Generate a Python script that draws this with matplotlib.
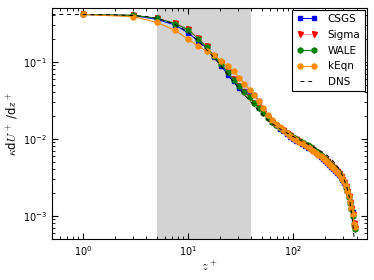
import matplotlib
matplotlib.use("Agg")
import matplotlib.pyplot as plt

# wall-normal positions of the LES cell centres (z+)
z_les = [1, 3, 5, 7.5, 10, 12.5, 15, 17.7, 20.6, 23.7, 27, 30.5, 34.3, 38.3, 42.5,
         47, 52, 57, 62.5, 68, 74, 80, 86.5, 93, 100,
         107, 114.5, 122, 130, 138, 146.5, 155, 164, 173, 182,
         191.5, 201, 211, 221, 231, 241, 251, 261, 271.5, 282,
         293, 304, 315, 326, 337, 348, 358, 367, 375.5, 383]

csgs = [0.41, 0.397, 0.355, 0.300, 0.236, 0.184, 0.150, 0.115, 0.089, 0.068, 0.0555, 0.0458, 0.0412, 0.0392, 0.0375,
        0.031, 0.0245, 0.0195, 0.0166, 0.0149, 0.0136, 0.0125, 0.0116, 0.0107, 0.0100,
        0.0094, 0.0090, 0.0085, 0.0081, 0.0077, 0.0073, 0.0069, 0.0065, 0.0061, 0.0058,
        0.0055, 0.0052, 0.0049, 0.0046, 0.00437, 0.0041, 0.00386, 0.00365, 0.00343, 0.00322,
        0.00296, 0.0027, 0.00238, 0.00208, 0.00178, 0.0015, 0.00128, 0.00112, 0.00082, 0.00074]

sigma = [0.41, 0.40, 0.368, 0.318, 0.265, 0.205, 0.158, 0.120, 0.095, 0.074, 0.059, 0.049, 0.041, 0.035, 0.0295,
         0.0252, 0.0218, 0.0188, 0.0166, 0.0151, 0.0139, 0.0129, 0.0119, 0.0111, 0.0104,
         0.0098, 0.0094, 0.0089, 0.0084, 0.0080, 0.0076, 0.0072, 0.0068, 0.0064, 0.0060,
         0.0057, 0.0054, 0.0051, 0.0048, 0.00452, 0.00425, 0.004, 0.00378, 0.00355, 0.00333,
         0.00302, 0.00275, 0.00243, 0.00212, 0.00181, 0.00152, 0.00127, 0.00106, 0.0008, 0.00069]

wale = [0.41, 0.40, 0.366, 0.313, 0.259, 0.198, 0.154, 0.117, 0.094, 0.0726, 0.0583, 0.0487, 0.0407, 0.0347, 0.029,
        0.0249, 0.0215, 0.0188, 0.0167, 0.0152, 0.014, 0.013, 0.012, 0.0112, 0.0105,
        0.0099, 0.0095, 0.0090, 0.0086, 0.0082, 0.0078, 0.0073, 0.0069, 0.0065, 0.0061,
        0.0058, 0.0055, 0.0052, 0.0049, 0.0046, 0.00432, 0.00405, 0.0038, 0.00356, 0.00332,
        0.003, 0.00272, 0.0024, 0.0021, 0.00178, 0.00146, 0.00122, 0.00099, 0.00076, 0.00068]

keqn = [0.41, 0.384, 0.325, 0.255, 0.195, 0.158, 0.136, 0.121, 0.103, 0.087, 0.0748, 0.0614, 0.0518, 0.0432, 0.037,
        0.0305, 0.0252, 0.0205, 0.0175, 0.0155, 0.0141, 0.0129, 0.0119, 0.011, 0.0103,
        0.0097, 0.0092, 0.0087, 0.0082, 0.0078, 0.0074, 0.007, 0.0066, 0.0062, 0.0059,
        0.0056, 0.0053, 0.005, 0.0047, 0.00445, 0.0042, 0.00395, 0.00372, 0.0035, 0.0033,
        0.003, 0.00274, 0.00242, 0.0021, 0.0018, 0.0015, 0.00126, 0.00107, 0.00079, 0.00071]

# DNS reference
z_dns = [0.5, 1, 2, 3, 4, 5, 6, 7, 8, 9, 10, 12, 14, 16, 18, 20, 23, 26, 30, 35, 40, 45, 50,
         60, 70, 80, 90, 100, 120, 150, 175, 200, 230, 260, 290, 320, 340, 355, 368, 378, 388, 394]
dns = [0.41, 0.409, 0.405, 0.398, 0.385, 0.365, 0.34, 0.315, 0.29, 0.265, 0.24, 0.195, 0.158,
       0.13, 0.108, 0.092, 0.072, 0.058, 0.046, 0.036, 0.0295, 0.0245, 0.021,
       0.0165, 0.0142, 0.0127, 0.0116, 0.0107, 0.0094, 0.008, 0.0072, 0.0064, 0.0055,
       0.0045, 0.0035, 0.0025, 0.0018, 0.0012, 0.0008, 0.00055, 0.0003, 0.0001]

buffer_zone = (5, 40)

plt.rcParams.update({
    "font.size": 7,
    "mathtext.fontset": "cm",
    "xtick.direction": "in",
    "ytick.direction": "in",
    "xtick.top": True,
    "ytick.right": True,
    "xtick.major.size": 4,
    "ytick.major.size": 4,
    "xtick.minor.size": 2,
    "ytick.minor.size": 2,
    "axes.linewidth": 0.8,
})

fig = plt.figure(figsize=(3.74, 2.8), dpi=100)
ax = fig.add_axes([0.138, 0.146, 0.8425, 0.826])

ax.axvspan(*buffer_zone, color="#d3d3d3", lw=0, zorder=0)

ms = 3.6
ax.plot(z_les, csgs, color="#0000ff", marker="s", ms=ms - 0.3, mec="#0000ff", lw=0.8, label="CSGS")
ax.plot(z_les, sigma, color="#f29a9a", marker="v", ms=ms, mfc="red", mec="red", lw=0.8, label="Sigma")
ax.plot(z_les, wale, color="#008000", marker="h", ms=ms + 0.2, mec="#008000", lw=0.8, label="WALE")
ax.plot(z_les, keqn, color="#ff8c00", marker="o", ms=ms, mec="#ff8c00", lw=0.8, label="kEqn")
ax.plot(z_dns, dns, color="black", ls=(0, (4, 4)), lw=0.7, label="DNS")

ax.set_xscale("log")
ax.set_yscale("log")
ax.set_xlim(0.5, 500)
ax.set_ylim(5e-4, 0.5)
ax.set_xlabel("$z^+$", fontsize=9, labelpad=1)
ax.set_ylabel(r"$\kappa$d$U^+$ /d$z^+$", fontsize=8.5, labelpad=3)

leg = ax.legend(loc="upper right", numpoints=2, fancybox=False, framealpha=1,
                edgecolor="black", fontsize=7.5, borderaxespad=0.2, labelspacing=0.55,
                handlelength=2.0, handletextpad=1.0)
leg.get_frame().set_linewidth(0.8)

fig.savefig("out.png", dpi=100)
